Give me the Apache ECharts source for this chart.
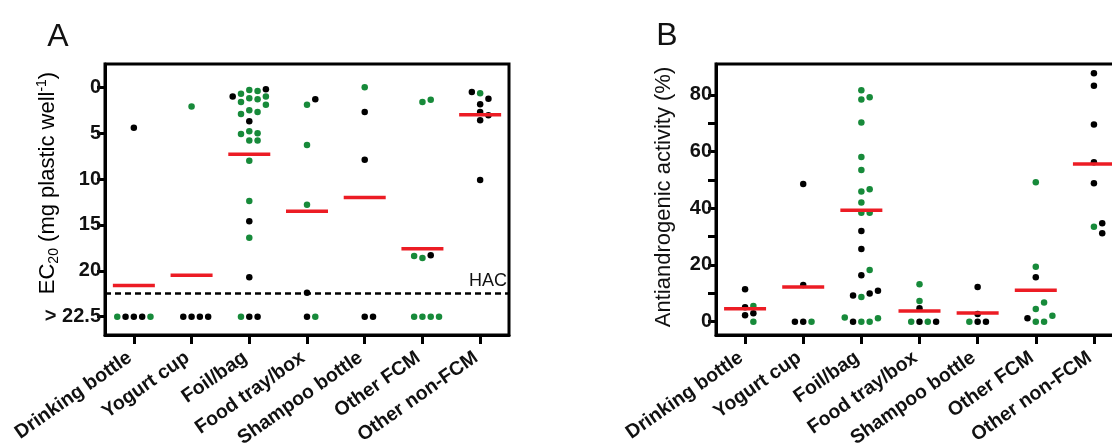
<!DOCTYPE html>
<html>
<head>
<meta charset="utf-8">
<script src="https://cdn.jsdelivr.net/npm/echarts@6/dist/echarts.min.js"></script>
<style>
html,body{margin:0;padding:0;background:#fff;}
#chart{width:1112px;height:444px;}
</style>
</head>
<body>
<div id="chart"></div>
<script>
// ---------- data ----------
const categories = ['Drinking bottle','Yogurt cup','Foil/bag','Food tray/box','Shampoo bottle','Other FCM','Other non-FCM'];

// Panel A: EC20 (mg plastic well^-1); 25 = the "> 22.5" row
const ec20Ticks = [0, 5, 10, 15, 20, 25];
const ec20TickLabels = ['0', '5', '10', '15', '20', '> 22.5'];
const hacLevel = 22.5;
// [category index, value, group]  group: 'k' = black, 'g' = green
const ec20Points = [
  [0, 4.4, 'k'], [0, 25, 'k'], [0, 25, 'k'], [0, 25, 'k'], [0, 25, 'g'], [0, 25, 'g'],
  [1, 2.1, 'g'], [1, 25, 'k'], [1, 25, 'k'], [1, 25, 'k'], [1, 25, 'k'],
  [2, 0.3, 'g'], [2, 0.4, 'g'], [2, 0.7, 'g'], [2, 0.2, 'k'], [2, 1.0, 'g'], [2, 1.2, 'g'], [2, 1.3, 'g'],
  [2, 1.0, 'k'], [2, 1.6, 'g'], [2, 1.9, 'g'], [2, 2.5, 'g'], [2, 2.7, 'g'], [2, 2.9, 'g'], [2, 3.7, 'k'],
  [2, 4.8, 'g'], [2, 5.0, 'g'], [2, 5.1, 'g'], [2, 5.8, 'g'], [2, 5.8, 'g'], [2, 8.0, 'g'], [2, 12.4, 'g'],
  [2, 14.6, 'k'], [2, 16.4, 'g'], [2, 20.7, 'k'], [2, 25, 'k'], [2, 25, 'k'], [2, 25, 'g'],
  [3, 1.9, 'g'], [3, 1.3, 'k'], [3, 6.3, 'g'], [3, 12.8, 'g'], [3, 22.4, 'k'], [3, 25, 'k'], [3, 25, 'g'],
  [4, 0.0, 'g'], [4, 2.7, 'k'], [4, 7.9, 'k'], [4, 25, 'k'], [4, 25, 'k'],
  [5, 1.6, 'g'], [5, 1.35, 'g'], [5, 18.6, 'g'], [5, 18.3, 'k'], [5, 18.4, 'g'],
  [5, 25, 'g'], [5, 25, 'g'], [5, 25, 'g'], [5, 25, 'g'],
  [6, 0.65, 'g'], [6, 1.25, 'k'], [6, 0.5, 'k'], [6, 1.85, 'k'], [6, 2.7, 'k'], [6, 3.05, 'k'], [6, 3.6, 'k'], [6, 10.1, 'k']
];
const ec20Means = [21.6, 20.5, 7.3, 13.5, 12.0, 17.6, 3.0];

// Panel B: antiandrogenic activity (%)
const aaTicks = [0, 10, 20, 30, 40, 50, 60, 70, 80];
const aaTickLabels = [0, 20, 40, 60, 80];
const aaPoints = [
  [0, 11.4, 'k'], [0, 5.1, 'k'], [0, 5.5, 'g'], [0, 3.0, 'k'], [0, 2.3, 'k'], [0, 0, 'g'],
  [1, 48.6, 'k'], [1, 12.9, 'k'], [1, 0, 'k'], [1, 0, 'g'], [1, 0, 'k'],
  [2, 81.6, 'g'], [2, 78.4, 'g'], [2, 79.2, 'g'], [2, 70.3, 'g'], [2, 58.1, 'g'], [2, 53.5, 'g'],
  [2, 45.9, 'g'], [2, 46.7, 'g'], [2, 42.0, 'g'], [2, 38.4, 'g'], [2, 38.4, 'g'], [2, 32.0, 'k'],
  [2, 25.6, 'k'], [2, 16.4, 'k'], [2, 18.2, 'g'], [2, 8.7, 'g'], [2, 9.9, 'k'], [2, 9.2, 'k'], [2, 10.9, 'k'],
  [2, 0, 'g'], [2, 0, 'g'], [2, 0, 'k'], [2, 1.2, 'g'], [2, 1.5, 'g'],
  [3, 13.2, 'g'], [3, 4.7, 'k'], [3, 7.3, 'g'], [3, 0, 'k'], [3, 0, 'g'], [3, 0, 'g'], [3, 0, 'k'],
  [4, 12.2, 'k'], [4, 0, 'k'], [4, 0, 'k'], [4, 0, 'g'], [4, 2.7, 'k'],
  [5, 49.2, 'g'], [5, 19.4, 'g'], [5, 15.7, 'k'], [5, 0, 'g'], [5, 0, 'g'], [5, 1.2, 'k'], [5, 2.1, 'g'],
  [5, 4.5, 'g'], [5, 6.8, 'g'],
  [6, 87.6, 'k'], [6, 83.2, 'k'], [6, 69.6, 'k'], [6, 56.2, 'k'], [6, 48.8, 'k'],
  [6, 33.5, 'g'], [6, 34.7, 'k'], [6, 31.2, 'k']
];
const aaMeans = [4.6, 12.2, 39.3, 3.8, 3.1, 11.1, 55.6];

// ---------- layout / style ----------
const FONT = 'Liberation Sans, Arial, sans-serif';
const GREEN = '#178a3a';
const RED = '#ec1c24';
const gA = {left: 105, top: 64, width: 404, height: 271};
const gB = {left: 716, top: 64, width: 407, height: 271};
const yA = {min: -2.54, max: 27.0};
const yB = {min: -4.7, max: 90.9};
const DOT = 6.5, SLOT_PX = 8.3, COLLIDE_PX = 7;

// simple beeswarm: spread colliding points into side slots
function swarm(points, grid, yr) {
  const pxPerUnit = grid.height / (yr.max - yr.min);
  const slotW = SLOT_PX / (grid.width / categories.length);
  const placed = {};
  const order = [0, 1, -1, 2, -2, 3, -3, 4, -4];
  return points.map(([c, v, g]) => {
    const y = v * pxPerUnit;
    const list = placed[c] || (placed[c] = []);
    let slot = 0;
    for (const s of order) {
      if (list.every(p => p.s !== s || Math.abs(p.y - y) >= COLLIDE_PX)) { slot = s; break; }
    }
    list.push({s: slot, y});
    return {x: c + slot * slotW, v, g};
  });
}
const swA = swarm(ec20Points, gA, yA);
const swB = swarm(aaPoints, gB, yB);
const pick = (sw, g) => sw.filter(p => p.g === g).map(p => [p.x, p.v]);

const catIdx = categories.map((_, i) => i);
function xAxisFor(gi) {
  return {
    type: 'value', gridIndex: gi, min: -0.5, max: categories.length - 0.5,
    splitLine: {show: false},
    axisLine: {show: true, onZero: false, lineStyle: {color: '#000', width: 3}},
    axisTick: {show: true, customValues: catIdx, length: 9, lineStyle: {color: '#000', width: 3}},
    axisLabel: {
      customValues: catIdx, formatter: v => categories[Math.round(v)] || '',
      rotate: 35, margin: 18, padding: [0, 5, 0, 0],
      fontFamily: FONT, fontWeight: 'bold', fontSize: 19.5, color: '#111'
    }
  };
}
const dotSeries = (gi, data, color) => ({
  type: 'scatter', xAxisIndex: gi, yAxisIndex: gi, data, symbol: 'circle', symbolSize: DOT,
  itemStyle: {color, opacity: 1}, z: 3, silent: true
});
const meanSeries = (gi, means) => ({
  type: 'scatter', xAxisIndex: gi, yAxisIndex: gi, data: means.map((m, i) => [i, m]),
  symbol: 'rect', symbolSize: [42, 3.5], itemStyle: {color: RED, opacity: 1}, z: 4, silent: true
});

const titleA = '{m|EC}{s|20}{m| (mg plastic well}{p|-1}{m|)}';
const titleRich = {
  m: {fontSize: 22, fontFamily: FONT, color: '#111', lineHeight: 26},
  s: {fontSize: 14, fontFamily: FONT, color: '#111', lineHeight: 14, verticalAlign: 'bottom'},
  p: {fontSize: 14, fontFamily: FONT, color: '#111', lineHeight: 14, verticalAlign: 'top'}
};

const gridStyle = {show: true, borderColor: '#000', borderWidth: 3, backgroundColor: 'transparent',
  containLabel: false, outerBoundsMode: 'none'};

const option = {
  animation: false,
  backgroundColor: '#fff',
  grid: [Object.assign({}, gridStyle, gA), Object.assign({}, gridStyle, gB)],
  xAxis: [xAxisFor(0), xAxisFor(1)],
  yAxis: [
    {
      type: 'value', gridIndex: 0, inverse: true, min: yA.min, max: yA.max,
      splitLine: {show: false},
      axisLine: {show: true, onZero: false, lineStyle: {color: '#000', width: 3}},
      axisTick: {show: true, customValues: ec20Ticks, length: 8, lineStyle: {color: '#000', width: 3}},
      axisLabel: {
        customValues: ec20Ticks, formatter: v => ec20TickLabels[ec20Ticks.indexOf(v)] ?? '',
        margin: 4, fontFamily: FONT, fontWeight: 'bold', fontSize: 20, color: '#111'
      }
    },
    {
      type: 'value', gridIndex: 1, min: yB.min, max: yB.max,
      splitLine: {show: false},
      axisLine: {show: true, onZero: false, lineStyle: {color: '#000', width: 3}},
      axisTick: {show: true, customValues: aaTicks, length: 8, lineStyle: {color: '#000', width: 3}},
      axisLabel: {
        customValues: aaTickLabels, formatter: v => String(v),
        margin: 4, fontFamily: FONT, fontWeight: 'bold', fontSize: 20, color: '#111'
      }
    }
  ],
  series: [
    Object.assign(dotSeries(0, pick(swA, 'k'), '#000'), {
      markLine: {
        silent: true, symbol: 'none',
        lineStyle: {type: [6, 4], color: '#000', width: 2.5},
        label: {show: true, position: 'insideEndTop', formatter: 'HAC', fontFamily: FONT, fontSize: 18, color: '#111', distance: [2, 4]},
        data: [{yAxis: hacLevel}]
      }
    }),
    dotSeries(0, pick(swA, 'g'), GREEN),
    meanSeries(0, ec20Means),
    dotSeries(1, pick(swB, 'k'), '#000'),
    dotSeries(1, pick(swB, 'g'), GREEN),
    meanSeries(1, aaMeans)
  ],
  graphic: [
    {type: 'text', x: 58, y: 37, style: {text: 'A', font: '32px ' + FONT, fill: '#111', align: 'center', verticalAlign: 'middle'}},
    {type: 'text', x: 667, y: 36, style: {text: 'B', font: '32px ' + FONT, fill: '#111', align: 'center', verticalAlign: 'middle'}},
    {type: 'text', x: 48, y: 183, rotation: Math.PI / 2,
      style: {text: titleA, rich: titleRich, align: 'center', verticalAlign: 'middle'}},
    {type: 'text', x: 664, y: 197, rotation: Math.PI / 2,
      style: {text: 'Antiandrogenic activity (%)', font: '22px ' + FONT, fill: '#111', align: 'center', verticalAlign: 'middle'}}
  ]
};

const chart = echarts.init(document.getElementById('chart'), null, {renderer: 'canvas'});
chart.setOption(option);
</script>
</body>
</html>
